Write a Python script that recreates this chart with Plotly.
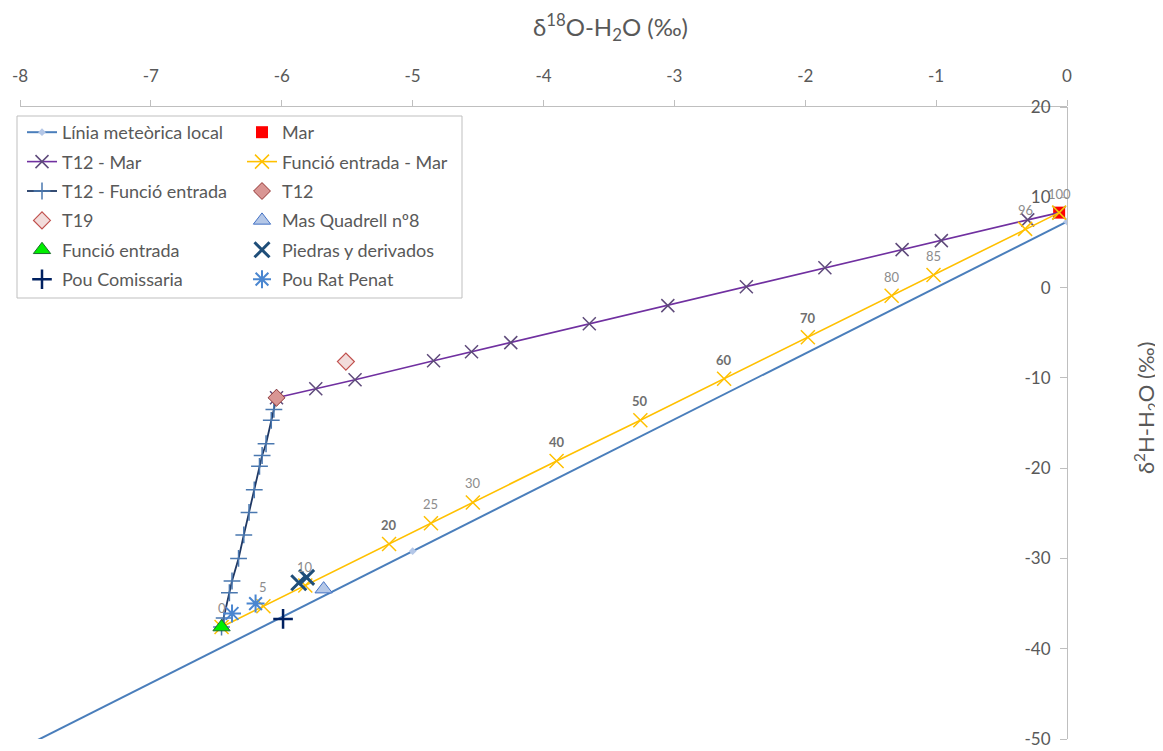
import plotly.graph_objects as go

# ---------------- data ----------------
lmwl_x = [-8.0, -5.0, 0.0]
lmwl_y = [-51.1, -29.2, 7.3]

mar_x = [-0.06]
mar_y = [8.3]

mix_pct = [0, 5, 10, 20, 25, 30, 40, 50, 60, 70, 80, 85, 96, 100]
mix_bold = [False, False, False, True, False, False, True, True, True, True, False, False, False, False]

t12mar_x = [-6.04, -5.74, -5.44, -4.84, -4.55, -4.25, -3.65, -3.05, -2.45, -1.85, -1.26, -0.96, -0.30, -0.06]
t12mar_y = [-12.2, -11.2, -10.2, -8.1, -7.1, -6.1, -4.0, -2.0, 0.1, 2.2, 4.2, 5.2, 7.5, 8.3]

femar_x = [-6.46, -6.14, -5.82, -5.18, -4.86, -4.54, -3.90, -3.26, -2.62, -1.98, -1.34, -1.02, -0.32, -0.06]
femar_y = [-37.6, -35.3, -33.0, -28.4, -26.1, -23.8, -19.2, -14.7, -10.1, -5.5, -0.9, 1.4, 6.5, 8.3]

t12fe_x = [-6.04, -6.06, -6.08, -6.12, -6.15, -6.17, -6.21, -6.25, -6.29, -6.33, -6.38, -6.40, -6.44, -6.46]
t12fe_y = [-12.2, -13.5, -14.7, -17.3, -18.6, -19.8, -22.4, -24.9, -27.4, -30.0, -32.5, -33.8, -36.6, -37.6]

t12_x, t12_y = [-6.04], [-12.2]
t19_x, t19_y = [-5.51], [-8.2]
mq8_x, mq8_y = [-5.68], [-33.4]
fe_x, fe_y = [-6.46], [-37.6]
piedras_x, piedras_y = [-5.87, -5.81], [-32.7, -32.1]
comissaria_x, comissaria_y = [-5.99], [-36.7]
ratpenat_x, ratpenat_y = [-6.20, -6.38], [-35.0, -36.1]

x_ticks = [-8, -7, -6, -5, -4, -3, -2, -1, 0]
y_ticks = [20, 10, 0, -10, -20, -30, -40, -50]

FONT = "Lato, Calibri, Carlito, sans-serif"
GRAY = "#595959"

fig = go.Figure()

def add(tr, leg):
    tr.legend = leg
    tr.legendgroup = tr.name
    fig.add_trace(tr)

add(go.Scatter(x=lmwl_x, y=lmwl_y, name="Línia meteòrica local", mode="lines+markers",
               line=dict(color="#4a7ebb", width=2),
               marker=dict(symbol="diamond", size=6, color="#b4c7e7")), "legend")
add(go.Scatter(x=mar_x, y=mar_y, name="Mar", mode="markers",
               marker=dict(symbol="square", size=12, color="#ff0000")), "legend2")
add(go.Scatter(x=t12mar_x, y=t12mar_y, name="T12 - Mar", mode="lines+markers",
               line=dict(color="#7030a0", width=1.6),
               marker=dict(symbol="x-thin", size=13, color="#5f4b7b",
                           line=dict(color="#5f4b7b", width=1.5))), "legend")
add(go.Scatter(x=femar_x, y=femar_y, name="Funció entrada - Mar", mode="lines+markers",
               line=dict(color="#ffc000", width=1.6),
               marker=dict(symbol="x-thin", size=14, color="#ffc000",
                           line=dict(color="#ffc000", width=1.5))), "legend2")
add(go.Scatter(x=t12fe_x, y=t12fe_y, name="T12 - Funció entrada", mode="lines+markers",
               line=dict(color="#1f3864", width=1.8),
               marker=dict(symbol="cross-thin", size=12, color="#4a78b0",
                           line=dict(color="#4a78b0", width=1.5))), "legend")
add(go.Scatter(x=t12_x, y=t12_y, name="T12", mode="markers",
               marker=dict(symbol="diamond", size=13, color="#d99694",
                           line=dict(color="#943634", width=1))), "legend2")
add(go.Scatter(x=t19_x, y=t19_y, name="T19", mode="markers",
               marker=dict(symbol="diamond", size=13, color="#f2dcdb",
                           line=dict(color="#c0504d", width=1.2))), "legend")
add(go.Scatter(x=mq8_x, y=mq8_y, name="Mas Quadrell nº8", mode="markers",
               marker=dict(symbol="triangle-up", size=15, color="#b4c7e7",
                           line=dict(color="#4472c4", width=1))), "legend2")
add(go.Scatter(x=fe_x, y=fe_y, name="Funció entrada", mode="markers",
               marker=dict(symbol="triangle-up", size=15, color="#00ee00",
                           line=dict(color="#1e6b2e", width=1))), "legend")
add(go.Scatter(x=piedras_x, y=piedras_y, name="Piedras y derivados", mode="markers",
               marker=dict(symbol="x-thin", size=15, color="#1f4e79",
                           line=dict(color="#1f4e79", width=3))), "legend2")
add(go.Scatter(x=comissaria_x, y=comissaria_y, name="Pou Comissaria", mode="markers",
               marker=dict(symbol="cross-thin", size=14, color="#002060",
                           line=dict(color="#002060", width=2.5))), "legend")
add(go.Scatter(x=ratpenat_x, y=ratpenat_y, name="Pou Rat Penat", mode="markers",
               marker=dict(symbol="asterisk-open", size=15, color="#4a86d0",
                           line=dict(color="#4a86d0", width=2))), "legend2")

# page offset (browser default body margin)
OFF = 8
W, H = 1163 - OFF, 751 - OFF
PL, PR, PT, PB = 20, 1067, 107, 739          # plot area in page pixels
L, T = PL - OFF, PT - OFF
R, B = W - (PR - OFF), H - (PB - OFF)
pw, ph = PR - PL, PB - PT

def px(xp):
    return (xp - PL) / pw

def py(yp):
    return 1 - (yp - PT) / ph

leg_common = dict(bgcolor="rgba(0,0,0,0)", borderwidth=0, tracegroupgap=3,
                  font=dict(family=FONT, size=18, color=GRAY),
                  xanchor="left", yanchor="top", itemwidth=30)

annotations = []
for xv, yv, p, b in zip(femar_x, femar_y, mix_pct, mix_bold):
    annotations.append(dict(x=xv, y=yv, xref="x", yref="y", text=(f"<b>{p}</b>" if b else str(p)),
                            showarrow=False, yshift=19, xanchor="center", yanchor="middle",
                            font=dict(family=FONT, size=13, color=("#6f6f6f" if b else "#8c8c8c"))))
annotations += [
    dict(text="δ<sup>18</sup>O-H<sub>2</sub>O (‰)", xref="paper", yref="paper",
         x=px(610), y=py(27), showarrow=False, xanchor="center", yanchor="middle",
         font=dict(family=FONT, size=24, color=GRAY)),
    dict(text="δ<sup>2</sup>H-H<sub>2</sub>O (‰)", xref="paper", yref="paper",
         x=px(1146), y=py(408), showarrow=False, xanchor="center", yanchor="middle",
         textangle=-90, font=dict(family=FONT, size=22, color=GRAY)),
]

fig.update_layout(
    width=W, height=H,
    margin=dict(l=L, r=R, t=T, b=B, autoexpand=False),
    paper_bgcolor="white", plot_bgcolor="white",
    font=dict(family=FONT, color=GRAY),
    legend=dict(x=px(22), y=py(114), **leg_common),
    legend2=dict(x=px(242), y=py(114), **leg_common),
    xaxis=dict(side="top", range=[-8, 0], tickvals=x_ticks, ticktext=[str(v) for v in x_ticks],
               showgrid=False, zeroline=False, showline=True, linecolor="#bfbfbf", linewidth=1,
               ticks="outside", ticklen=6, tickcolor="#bfbfbf", automargin=False,
               tickfont=dict(family=FONT, size=17, color=GRAY), ticklabelstandoff=11),
    yaxis=dict(side="left", anchor="free", position=1, range=[-50, 20], tickvals=y_ticks,
               ticktext=[str(v) for v in y_ticks], automargin=False,
               showgrid=False, zeroline=False, showline=True, linecolor="#bfbfbf", linewidth=1,
               ticks="outside", ticklen=7, tickcolor="#bfbfbf", ticklabelstandoff=6,
               tickfont=dict(family=FONT, size=17, color=GRAY)),
    shapes=[dict(type="rect", xref="paper", yref="paper", x0=px(17), x1=px(462), y0=py(298), y1=py(116),
                 line=dict(color="#bfbfbf", width=1), fillcolor="white", layer="below")],
    annotations=annotations,
)

fig.write_html("out.html")
